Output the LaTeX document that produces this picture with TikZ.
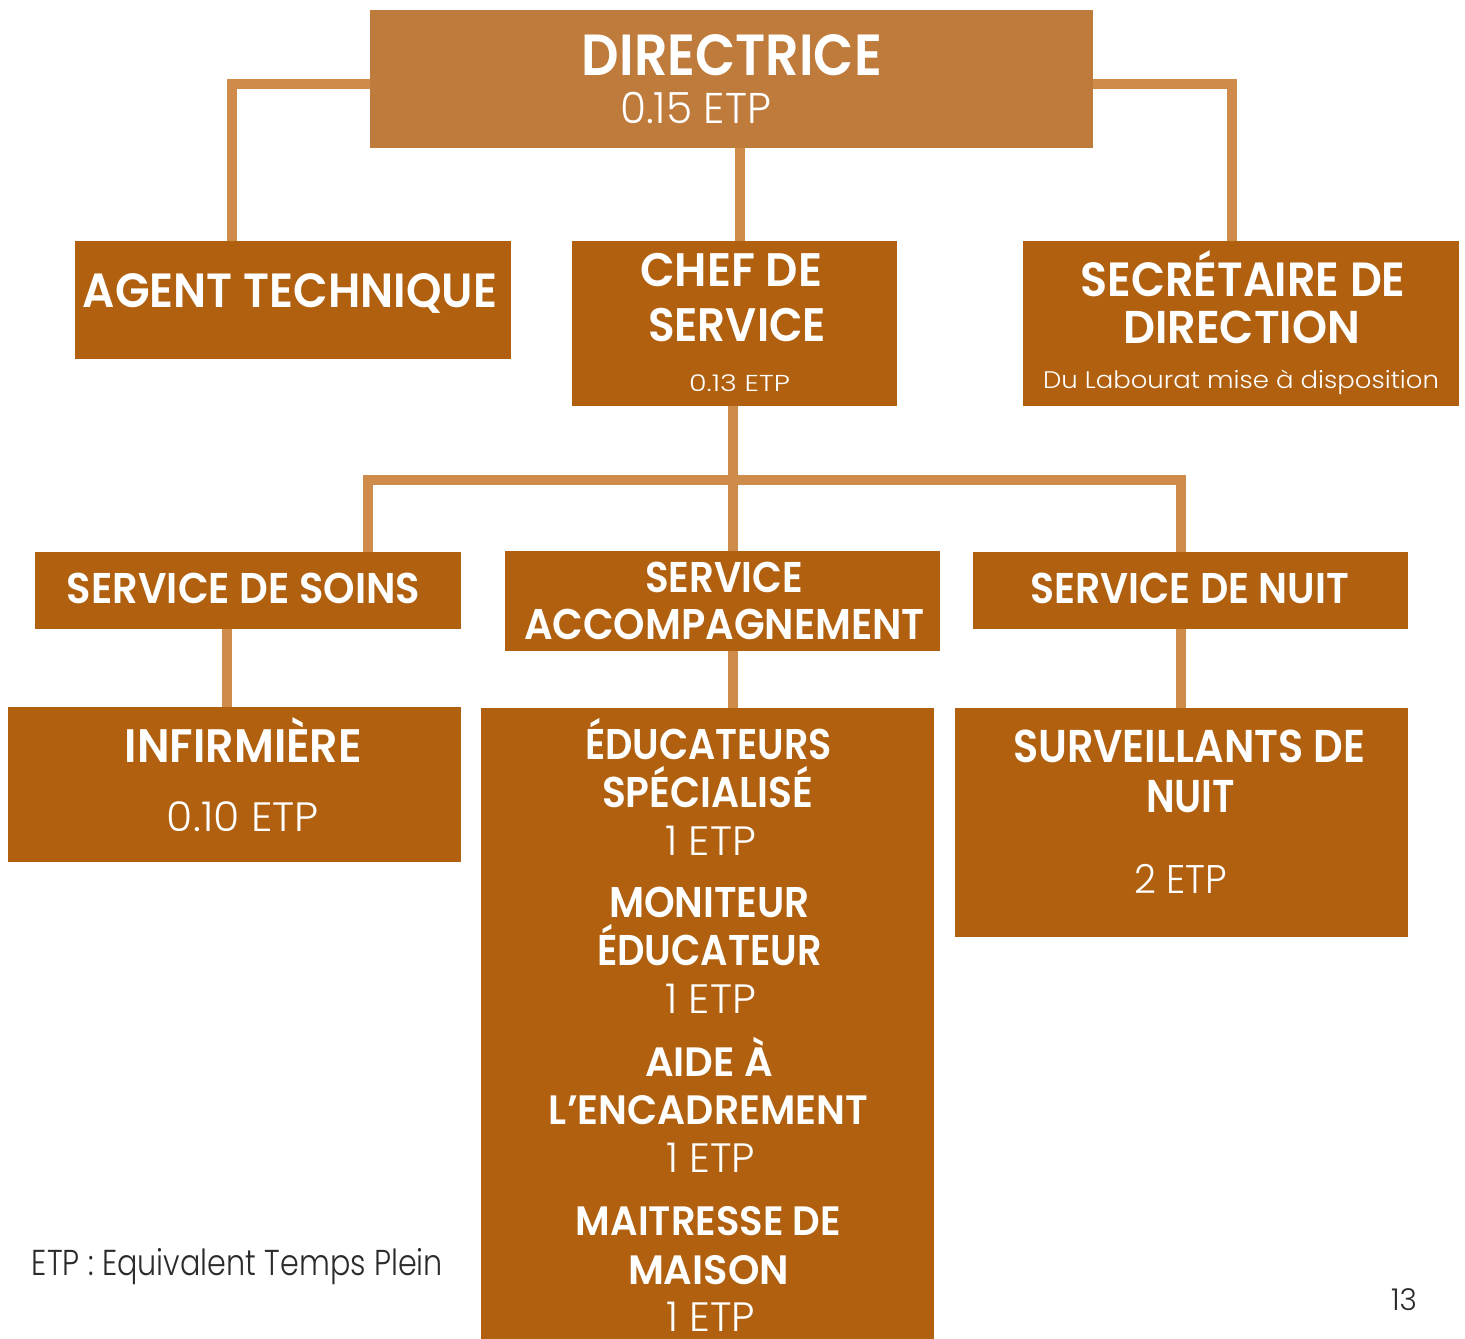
\documentclass[tikz,border=0pt]{standalone}
\usepackage{fontspec}
\usepackage{graphicx}
\setmainfont{Poppins Light}[BoldFont={Poppins SemiBold}]
\definecolor{dirfill}{HTML}{BF7B3B}
\definecolor{boxfill}{HTML}{B0600F}
\definecolor{linkcol}{HTML}{CF8B4A}
\definecolor{legendcol}{HTML}{2B2B2B}
\newcommand\mylab[3]{\fontsize{#2}{#2}\selectfont\resizebox{#1pt}{\height}{#3}}
\tikzset{
  orgbox/.style={rectangle, fill=boxfill, inner sep=0pt, draw=none},
  topbox/.style={orgbox, fill=dirfill},
  lab/.style={anchor=base, inner sep=0pt, text=white},
  darklab/.style={anchor=base, inner sep=0pt, text=legendcol},
  link/.style={draw=linkcol, line width=10pt, line join=miter}
}
\begin{document}
\begin{tikzpicture}[x=1pt,y=-1pt]
\fill[white] (0,0) rectangle (1465,1339);
\useasboundingbox (0,0) rectangle (1465,1339);

% boxes
\node[topbox, minimum width=723pt, minimum height=138pt] (dir) at (731.5,79) {};
\node[orgbox, minimum width=436pt, minimum height=118pt] (agent) at (293,300) {};
\node[orgbox, minimum width=325pt, minimum height=165pt] (chef) at (734.5,323.5) {};
\node[orgbox, minimum width=436pt, minimum height=165pt] (sec) at (1241,323.5) {};
\node[orgbox, minimum width=426pt, minimum height=77pt] (soins) at (248,590.5) {};
\node[orgbox, minimum width=435pt, minimum height=100pt] (acc) at (722.5,601) {};
\node[orgbox, minimum width=435pt, minimum height=77pt] (nuit) at (1190.5,590.5) {};
\node[orgbox, minimum width=453pt, minimum height=155pt] (inf) at (234.5,784.5) {};
\node[orgbox, minimum width=453pt, minimum height=631pt] (educ) at (707.5,1023.5) {};
\node[orgbox, minimum width=453pt, minimum height=229pt] (surv) at (1181.5,822.5) {};

% connectors
\coordinate (agentin) at ([xshift=-61.5pt]agent.north);
\coordinate (secin) at ([xshift=-9.5pt]sec.north);
\draw[link] ([yshift=-5pt]dir.west) -| (agentin);
\draw[link] ([yshift=-5pt]dir.east) -| (secin);
\draw[link] ([xshift=8.5pt]dir.south) -- ([xshift=8.5pt]dir.south |- chef.north);
\coordinate (bar) at ([xshift=-1.5pt]chef.south |- 0,480);
\coordinate (soinsin) at ([xshift=120pt]soins.north);
\coordinate (nuitin) at ([xshift=-9.5pt]nuit.north);
\draw[link] ([xshift=-1.5pt]chef.south) -- ([xshift=-1.5pt]chef.south |- acc.north);
\draw[link] (soinsin) |- (bar) -| (nuitin);
\draw[link] ([xshift=-21pt]soins.south) -- ([xshift=-21pt]soins.south |- inf.north);
\draw[link] ([xshift=10.5pt]acc.south) -- ([xshift=10.5pt]acc.south |- educ.north);
\draw[link] ([xshift=-9.5pt]nuit.south) -- ([xshift=-9.5pt]nuit.south |- surv.north);

% texts
\node[lab] (dir1) at (732,75) {\mylab{300}{58}{\bfseries DIRECTRICE}};
\node[lab] (dir2) at (695.5,123) {\mylab{151}{43}{0.15 ETP}};

\node[lab] (agent1) at (290,307) {\mylab{414}{48}{\bfseries AGENT TECHNIQUE}};

\node[lab] (chef1) at (731,286) {\mylab{182}{47}{\bfseries CHEF DE}};
\node[lab] (chef2) at (737,341) {\mylab{178}{47}{\bfseries SERVICE}};
\node[lab] (chef3) at (739.5,391) {\mylab{101}{23}{0.13 ETP}};

\node[lab] (sec1) at (1243,296) {\mylab{325}{48}{\bfseries SECRÉTAIRE DE}};
\node[lab] (sec2) at (1241.5,343) {\mylab{237}{46}{\bfseries DIRECTION}};
\node[lab] (sec3) at (1241,388) {\mylab{396}{24}{Du Labourat mise à disposition}};

\node[lab] (soins1) at (243.5,603) {\mylab{353}{43}{\bfseries SERVICE DE SOINS}};
\node[lab] (acc1) at (724,592) {\mylab{158}{43}{\bfseries SERVICE}};
\node[lab] (acc2) at (724.5,639) {\mylab{401}{43}{\bfseries ACCOMPAGNEMENT}};
\node[lab] (nuit1) at (1189.5,603) {\mylab{319}{43}{\bfseries SERVICE DE NUIT}};

\node[lab] (inf1) at (243.5,762) {\mylab{237}{47}{\bfseries INFIRMIÈRE}};
\node[lab] (inf2) at (243,831) {\mylab{152}{41}{0.10 ETP}};

\node[lab] (ed1) at (708.5,759) {\mylab{247}{43}{\bfseries ÉDUCATEURS}};
\node[lab] (ed2) at (707.5,807) {\mylab{211}{43}{\bfseries SPÉCIALISÉ}};
\node[lab] (ed3) at (710.5,855) {\mylab{91}{41}{1 ETP}};
\node[lab] (ed4) at (709.5,917) {\mylab{201}{43}{\bfseries MONITEUR}};
\node[lab] (ed5) at (709.5,965) {\mylab{225}{43}{\bfseries ÉDUCATEUR}};
\node[lab] (ed6) at (710.5,1013) {\mylab{91}{41}{1 ETP}};
\node[lab] (ed7) at (709,1076) {\mylab{128}{41}{\bfseries AIDE À}};
\node[lab] (ed8) at (708.5,1124) {\mylab{319}{41}{\bfseries L’ENCADREMENT}};
\node[lab] (ed9) at (710.5,1172) {\mylab{89}{41}{1 ETP}};
\node[lab] (ed10) at (708.5,1235) {\mylab{265}{41}{\bfseries MAITRESSE DE}};
\node[lab] (ed11) at (708.5,1284) {\mylab{161}{41}{\bfseries MAISON}};
\node[lab] (ed12) at (710.5,1331) {\mylab{89}{41}{1 ETP}};

\node[lab] (surv1) at (1189,762) {\mylab{352}{46}{\bfseries SURVEILLANTS DE}};
\node[lab] (surv2) at (1190.5,812) {\mylab{89}{46}{\bfseries NUIT}};
\node[lab] (surv3) at (1180.5,893) {\mylab{93}{40}{2 ETP}};

\node[darklab] (legend) at (237.5,1275) {\mylab{411}{36}{ETP : Equivalent Temps Plein}};
\node[darklab] (page) at (1404,1310) {\mylab{26}{30}{13}};
\end{tikzpicture}
\end{document}
